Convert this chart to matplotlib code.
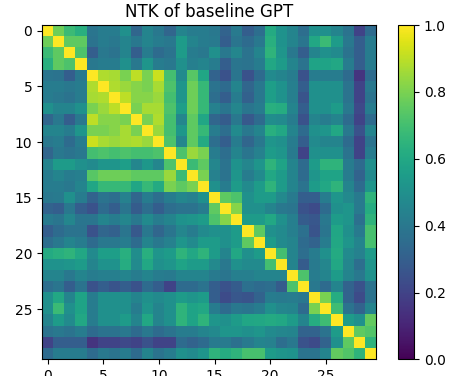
import numpy as np
import matplotlib
matplotlib.use("Agg")
import matplotlib.pyplot as plt

# lower triangle of the kernel, row i holds columns 0..i
tri_a = [
    [1.0],
    [0.78, 1.0],
    [0.68, 0.75, 1.0],
    [0.63, 0.75, 0.72, 1.0],
    [0.39, 0.38, 0.30, 0.40, 1.0],
    [0.42, 0.42, 0.40, 0.42, 0.88, 1.0],
    [0.42, 0.40, 0.38, 0.42, 0.87, 0.88, 1.0],
    [0.50, 0.45, 0.45, 0.50, 0.80, 0.85, 0.90, 1.0],
    [0.33, 0.40, 0.30, 0.40, 0.90, 0.82, 0.82, 0.80, 1.0],
    [0.45, 0.45, 0.42, 0.52, 0.80, 0.80, 0.82, 0.87, 0.80, 1.0],
    [0.40, 0.42, 0.35, 0.42, 0.92, 0.87, 0.85, 0.87, 0.88, 0.85, 1.0],
    [0.33, 0.40, 0.38, 0.40, 0.70, 0.72, 0.70, 0.72, 0.70, 0.70, 0.72, 1.0],
    [0.45, 0.55, 0.55, 0.50, 0.48, 0.52, 0.52, 0.56, 0.46, 0.53, 0.46, 0.72, 1.0],
    [0.42, 0.45, 0.42, 0.43, 0.74, 0.78, 0.78, 0.78, 0.75, 0.75, 0.75, 0.85, 0.68, 1.0],
    [0.42, 0.42, 0.40, 0.45, 0.59, 0.67, 0.67, 0.67, 0.59, 0.67, 0.61, 0.80, 0.75, 0.80, 1.0],
]

# rows 15..29, columns 0..14
cross = [
    [0.40, 0.41, 0.50, 0.42, 0.32, 0.38, 0.36, 0.44, 0.33, 0.42, 0.36, 0.42, 0.46, 0.44, 0.50],
    [0.32, 0.30, 0.40, 0.30, 0.25, 0.35, 0.30, 0.39, 0.29, 0.36, 0.30, 0.36, 0.38, 0.38, 0.42],
    [0.41, 0.39, 0.46, 0.39, 0.39, 0.45, 0.42, 0.46, 0.40, 0.48, 0.42, 0.45, 0.51, 0.52, 0.55],
    [0.30, 0.35, 0.38, 0.38, 0.25, 0.33, 0.31, 0.39, 0.28, 0.40, 0.33, 0.39, 0.46, 0.42, 0.48],
    [0.36, 0.40, 0.45, 0.42, 0.35, 0.40, 0.40, 0.42, 0.35, 0.45, 0.40, 0.44, 0.52, 0.48, 0.55],
    [0.61, 0.63, 0.65, 0.60, 0.48, 0.56, 0.56, 0.63, 0.49, 0.63, 0.52, 0.55, 0.65, 0.60, 0.65],
    [0.51, 0.51, 0.52, 0.55, 0.45, 0.51, 0.51, 0.62, 0.48, 0.60, 0.50, 0.52, 0.58, 0.55, 0.55],
    [0.45, 0.45, 0.40, 0.45, 0.42, 0.43, 0.43, 0.45, 0.42, 0.45, 0.42, 0.41, 0.45, 0.45, 0.45],
    [0.36, 0.39, 0.30, 0.38, 0.25, 0.30, 0.26, 0.30, 0.25, 0.35, 0.30, 0.20, 0.35, 0.35, 0.38],
    [0.50, 0.60, 0.45, 0.58, 0.42, 0.50, 0.50, 0.50, 0.45, 0.50, 0.48, 0.50, 0.55, 0.52, 0.55],
    [0.50, 0.68, 0.50, 0.58, 0.42, 0.50, 0.50, 0.50, 0.42, 0.52, 0.45, 0.50, 0.65, 0.58, 0.60],
    [0.45, 0.55, 0.48, 0.60, 0.42, 0.50, 0.50, 0.55, 0.45, 0.60, 0.45, 0.50, 0.65, 0.58, 0.65],
    [0.38, 0.40, 0.38, 0.42, 0.35, 0.38, 0.38, 0.40, 0.35, 0.40, 0.35, 0.38, 0.42, 0.42, 0.45],
    [0.20, 0.30, 0.30, 0.30, 0.15, 0.20, 0.20, 0.22, 0.20, 0.25, 0.20, 0.20, 0.35, 0.32, 0.35],
    [0.35, 0.42, 0.42, 0.42, 0.35, 0.40, 0.38, 0.42, 0.35, 0.45, 0.38, 0.42, 0.50, 0.48, 0.52],
]

# lower triangle of rows 15..29, columns 15..i
tri_b = [
    [1.0],
    [0.75, 1.0],
    [0.72, 0.82, 1.0],
    [0.50, 0.50, 0.55, 1.0],
    [0.55, 0.50, 0.55, 0.75, 1.0],
    [0.55, 0.45, 0.60, 0.50, 0.55, 1.0],
    [0.47, 0.40, 0.50, 0.48, 0.48, 0.70, 1.0],
    [0.41, 0.39, 0.43, 0.43, 0.45, 0.45, 0.45, 1.0],
    [0.30, 0.25, 0.29, 0.37, 0.35, 0.36, 0.29, 0.72, 1.0],
    [0.30, 0.23, 0.27, 0.26, 0.32, 0.42, 0.41, 0.42, 0.40, 1.0],
    [0.42, 0.35, 0.40, 0.39, 0.42, 0.50, 0.46, 0.45, 0.35, 0.80, 1.0],
    [0.52, 0.50, 0.55, 0.59, 0.60, 0.61, 0.60, 0.55, 0.45, 0.62, 0.69, 1.0],
    [0.47, 0.52, 0.52, 0.50, 0.52, 0.48, 0.46, 0.45, 0.32, 0.32, 0.38, 0.55, 1.0],
    [0.41, 0.41, 0.37, 0.41, 0.45, 0.44, 0.36, 0.40, 0.25, 0.23, 0.32, 0.50, 0.75, 1.0],
    [0.65, 0.62, 0.65, 0.71, 0.71, 0.55, 0.52, 0.51, 0.38, 0.38, 0.45, 0.76, 0.73, 0.65, 1.0],
]

n = 30
K = np.zeros((n, n))
for i, row in enumerate(tri_a):
    K[i, :len(row)] = row
for k, row in enumerate(cross):
    K[15 + k, :15] = row
for k, row in enumerate(tri_b):
    K[15 + k, 15:15 + len(row)] = row
K = np.tril(K) + np.tril(K, -1).T  # kernel is symmetric

fig = plt.figure(figsize=(4.6, 3.76), dpi=100)
ax = fig.add_axes([0.0913, 0.0439, 0.726, 0.8896])
cax = fig.add_axes([0.865, 0.0439, 0.0348, 0.8896])

im = ax.imshow(K, cmap="viridis", vmin=0, vmax=1)
ax.set_xticks(range(0, n, 5))
ax.set_yticks(range(0, n, 5))
ax.set_title("NTK of baseline GPT")
fig.colorbar(im, cax=cax)

fig.savefig("out.png", dpi=100)
